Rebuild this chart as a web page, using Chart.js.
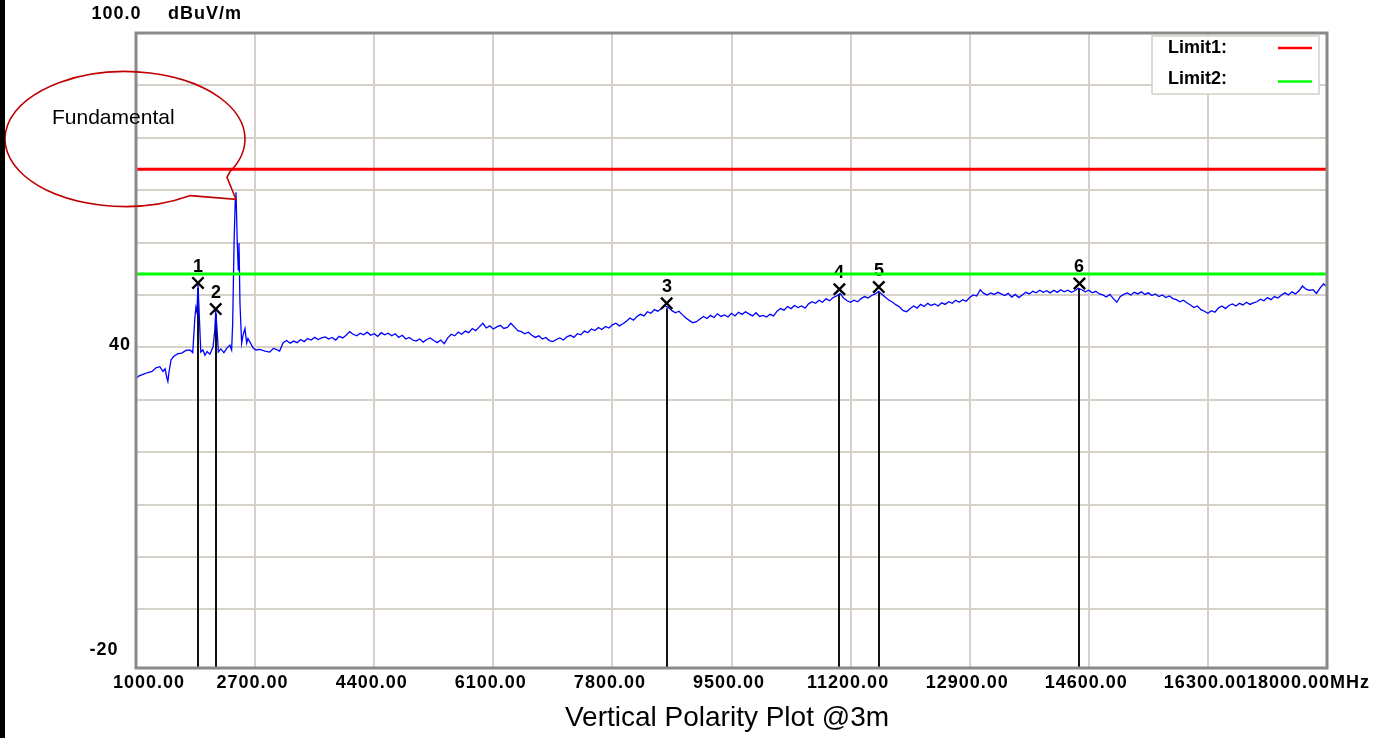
<!DOCTYPE html>
<html>
<head>
<meta charset="utf-8">
<script src="https://cdn.jsdelivr.net/npm/chart.js@4.4.1/dist/chart.umd.min.js"></script>
<style>
  html, body { margin: 0; padding: 0; background: #fff; }
  #wrap { position: relative; width: 1394px; height: 738px; overflow: hidden; }
  #edge { position: absolute; left: 0; top: 0; width: 5px; height: 738px; background: #000; }
  canvas { display: block; }
</style>
</head>
<body>
<div id="wrap">
  <canvas id="plot" width="1394" height="738"></canvas>
  <div id="edge"></div>
</div>
<script>
// ---- axes ----
const xTickValues = [1000, 2700, 4400, 6100, 7800, 9500, 11200, 12900, 14600, 16300, 18000];
const xTickLabels = ['1000.00', '2700.00', '4400.00', '6100.00', '7800.00', '9500.00',
                     '11200.00', '12900.00', '14600.00', '16300.00', '18000.00MHz'];
const yGridLevels = [100, 90, 80, 70, 60, 50, 40, 30, 20, 10, 0, -10];
const yTickValues = [100, 40, -20];
const yTickLabels = ['100.0', '40', '-20'];
const yUnit = 'dBuV/m';
const plotTitle = 'Vertical Polarity Plot @3m';
const calloutText = 'Fundamental';
const calloutFreq = 2427;
const calloutLevel = 69.6;

// ---- limits ----
const limitNames = ['Limit1:', 'Limit2:'];
const limitLevels = [74, 54];

// ---- markers ----
const markerIds = ['1', '2', '3', '4', '5', '6'];
const markerFreqs = [1885, 2138, 8575, 11040, 11602, 14467];
const markerLevels = [52.3, 47.3, 48.4, 51.1, 51.5, 52.2];

// ---- measured trace, 1 - 3 GHz (MHz / dBuV/m) ----
const lowBandFreqs = [
  1000, 1050, 1110, 1170, 1230, 1285, 1340, 1385, 1415, 1440, 1455, 1470, 1500, 1540, 1600,
  1655, 1710, 1770, 1810, 1840, 1855, 1870, 1885, 1905, 1925, 1955, 1985, 2015, 2055, 2100,
  2125, 2138, 2160, 2175, 2210, 2255, 2300, 2340, 2365, 2380, 2400, 2417, 2427, 2437, 2446,
  2460, 2470, 2484, 2508, 2527, 2555, 2580, 2598, 2627, 2670, 2712, 2770, 2840, 2910, 2960
];
const lowBandLevels = [
  34.1, 34.6, 34.9, 35.2, 35.4, 36.1, 36.3, 35.4, 35.9, 34.2, 33.5, 35.2, 37.6, 38.3, 38.8,
  38.9, 39.4, 39.5, 39.0, 45.6, 47.6, 46.7, 52.0, 45.5, 39.1, 39.5, 38.5, 39.2, 38.7, 40.1,
  43.3, 47.0, 42.8, 39.1, 39.7, 39.0, 39.9, 40.4, 39.5, 44.6, 60.0, 68.2, 69.6, 64.4, 59.8,
  54.8, 59.9, 48.4, 40.8, 42.3, 43.6, 40.8, 41.7, 41.0, 39.9, 39.5, 39.6, 39.3, 39.1, 39.8
];

// ---- measured trace, 3 - 18 GHz sweep, 50 MHz steps ----
const sweepStart = 3000;
const sweepStep = 50;
const sweepLevels = [
  39.6, 39.3, 40.9, 41.3, 40.8, 41.2, 40.9, 41.5, 41.1, 41.7, 41.4, 41.9, 41.5, 41.8, 42.0, 41.6, 41.9, 41.4, 42.1, 41.8,
  42.3, 43.0, 42.5, 42.2, 42.7, 42.4, 42.9, 42.3, 42.6, 42.1, 42.8, 42.4, 42.7, 42.2, 42.6, 41.9, 42.3, 41.6, 41.9, 41.4,
  41.2, 41.6, 41.0, 41.5, 41.8, 41.3, 40.9, 41.4, 40.7, 41.8, 42.5, 42.2, 42.9, 42.5, 43.1, 42.8, 43.6, 43.2, 43.9, 44.6,
  43.7, 44.1, 43.5, 43.9, 44.2, 43.6, 43.8, 44.6, 43.9, 43.2, 43.0, 42.6, 42.9, 42.3, 41.9, 42.2, 41.6, 41.9, 41.3, 41.1,
  41.5, 41.8, 41.4, 42.0, 42.3, 41.9, 42.6, 42.4, 43.1, 42.8, 43.5, 43.2, 43.8, 43.4, 44.0, 43.7, 44.3, 44.6, 44.1, 44.5,
  45.0, 45.6, 45.2, 45.9, 46.3, 46.0, 46.8, 46.5, 47.2, 46.9, 47.4, 47.9, 47.6, 47.0, 46.6, 46.9, 46.2, 45.6, 45.1, 44.7,
  44.9, 45.4, 45.9, 45.5, 46.1, 45.7, 46.4, 45.9, 46.2, 45.8, 46.5, 46.0, 46.7, 46.3, 46.8, 46.4, 46.0, 46.6, 45.9, 46.1,
  45.8, 46.3, 46.0, 46.9, 47.4, 47.1, 47.8, 47.4, 48.0, 47.6, 47.9, 47.5, 48.3, 48.7, 48.4, 49.0, 48.6, 49.3, 48.9, 49.5,
  49.8, 50.3, 49.4, 48.9, 48.6, 49.0, 48.7, 49.3, 49.7, 49.4, 49.9, 50.2, 50.7, 50.1, 49.5, 49.0, 48.6, 48.1, 47.7, 47.0,
  46.8, 47.4, 47.9, 47.5, 48.2, 47.8, 48.4, 48.0, 48.3, 47.9, 48.5, 48.2, 48.7, 48.4, 49.0, 48.6, 49.1, 48.8, 49.5, 50.0,
  49.8, 51.0, 50.3, 50.0, 50.4, 50.1, 50.5, 50.2, 49.9, 50.3, 49.6, 50.1, 49.5, 50.0, 50.5, 50.2, 50.7, 50.4, 50.9, 50.5,
  50.8, 50.4, 50.9, 50.5, 51.0, 50.6, 50.9, 50.5, 50.8, 51.3, 51.0, 50.6, 50.9, 50.4, 50.7, 50.2, 50.0, 49.6, 50.1, 49.3,
  48.6, 49.7, 50.1, 50.4, 50.0, 50.5, 50.2, 50.6, 50.1, 50.4, 49.9, 50.2, 49.7, 50.0, 49.5, 49.8, 49.3, 49.1, 48.7, 49.0,
  48.5, 48.1, 47.6, 47.9, 47.2, 46.9, 46.5, 47.0, 46.7, 47.5, 47.9, 47.4, 48.0, 48.3, 47.9, 48.4, 48.1, 48.6, 48.2, 48.5,
  48.7, 49.2, 48.9, 49.5, 49.1, 49.7, 49.4, 50.0, 50.4, 50.0, 50.6, 50.2, 50.8, 51.7, 51.1, 50.9, 51.0, 50.3, 51.3, 52.1,
  51.6
];

// ---- build chart data ----
const tracePoints = lowBandFreqs.map((f, i) => ({ x: f, y: lowBandLevels[i] }))
  .concat(sweepLevels.map((v, i) => ({ x: sweepStart + i * sweepStep, y: v })));
const markerPoints = markerFreqs.map((f, i) => ({ x: f, y: markerLevels[i] }));
const xMin = xTickValues[0];
const xMax = xTickValues[xTickValues.length - 1];
const limitColors = ['#ff0000', '#00ff00'];
const limitDatasets = limitNames.map((name, i) => ({
  label: name,
  data: [{ x: xMin, y: limitLevels[i] }, { x: xMax, y: limitLevels[i] }],
  borderColor: limitColors[i],
  borderWidth: 3,
  pointRadius: 0,
  order: 0
}));

const AXIS_FONT = 'bold 18px "Liberation Sans", Arial, sans-serif';

// Frame, legend, axis text, marker drop lines and the callout bubble.
const decorations = {
  id: 'decorations',
  beforeDatasetsDraw(chart) {
    const { ctx, chartArea: a, scales: { x, y } } = chart;
    ctx.save();
    ctx.strokeStyle = '#111';
    ctx.lineWidth = 2;
    ctx.fillStyle = '#000';
    ctx.font = 'bold 18px "Liberation Sans", Arial, sans-serif';
    ctx.textAlign = 'center';
    ctx.textBaseline = 'middle';
    markerFreqs.forEach((f, i) => {
      const px = Math.round(x.getPixelForValue(f));
      const py = y.getPixelForValue(markerLevels[i]);
      ctx.beginPath();
      ctx.moveTo(px, py + 5);
      ctx.lineTo(px, a.bottom);
      ctx.stroke();
      ctx.fillText(markerIds[i], px, py - 16);
    });
    ctx.restore();
  },
  afterDatasetsDraw(chart) {
    const { ctx, chartArea: a } = chart;
    ctx.save();
    // plot frame
    ctx.strokeStyle = '#8a8a8a';
    ctx.lineWidth = 3;
    ctx.strokeRect(a.left, a.top, a.right - a.left, a.bottom - a.top);
    // legend box
    const bx = a.right - 175, by = a.top + 3, bw = 167, bh = 58;
    ctx.fillStyle = '#fff';
    ctx.fillRect(bx, by, bw, bh);
    ctx.strokeStyle = '#d4d0c8';
    ctx.lineWidth = 1.5;
    ctx.strokeRect(bx, by, bw, bh);
    ctx.font = 'bold 18px "Liberation Sans", Arial, sans-serif';
    ctx.textAlign = 'left';
    ctx.textBaseline = 'middle';
    limitDatasets.forEach((ds, i) => {
      const ty = by + 12 + i * 31;
      ctx.fillStyle = '#000';
      ctx.fillText(ds.label, bx + 16, ty);
      ctx.strokeStyle = ds.borderColor;
      ctx.lineWidth = 2.5;
      ctx.beginPath();
      ctx.moveTo(bx + 126, ty + i * 2.5);
      ctx.lineTo(bx + 160, ty + i * 2.5);
      ctx.stroke();
    });
    ctx.restore();
  },
  afterDraw(chart) {
    const { ctx, chartArea: a, scales: { x, y } } = chart;
    ctx.save();
    ctx.fillStyle = '#000';
    ctx.font = AXIS_FONT;
    ctx.letterSpacing = '1px';
    ctx.textBaseline = 'middle';
    // x tick labels
    xTickValues.forEach((v, i) => {
      const px = x.getPixelForValue(v);
      if (i === 0) {
        ctx.textAlign = 'left';
        ctx.fillText(xTickLabels[i], px - 23, a.bottom + 15);
      } else if (i === xTickValues.length - 1) {
        ctx.textAlign = 'left';
        ctx.fillText(xTickLabels[i], px - 80, a.bottom + 15);
      } else {
        ctx.textAlign = 'center';
        ctx.fillText(xTickLabels[i], px - 2.5, a.bottom + 15);
      }
    });
    // y tick labels and unit
    ctx.textAlign = 'left';
    ctx.fillText(yTickLabels[0], a.left - 44.5, a.top - 19);
    ctx.fillText(yUnit, a.left + 32, a.top - 19);
    ctx.textAlign = 'right';
    ctx.fillText(yTickLabels[1], a.left - 5, y.getPixelForValue(yTickValues[1]) - 2);
    ctx.fillText(yTickLabels[2], a.left - 17.5, y.getPixelForValue(yTickValues[2]) - 11.5);
    ctx.letterSpacing = '0px';
    // title under the axis
    ctx.textAlign = 'center';
    ctx.textBaseline = 'alphabetic';
    ctx.font = '28px "Liberation Sans", Arial, sans-serif';
    ctx.fillText(plotTitle, 727, 726);
    // callout bubble pointing at the fundamental
    const tipX = x.getPixelForValue(calloutFreq);
    const tipY = y.getPixelForValue(calloutLevel) + 7;
    const cx = 125, cy = 139, rx = 120, ry = 67.5;
    const a0 = 57 * Math.PI / 180, a1 = 29 * Math.PI / 180;
    ctx.strokeStyle = '#c00000';
    ctx.lineWidth = 1.6;
    ctx.beginPath();
    ctx.ellipse(cx, cy, rx, ry, 0, a0, a1 + 2 * Math.PI);
    ctx.lineTo(tipX - 9, tipY - 22);
    ctx.lineTo(tipX, tipY);
    ctx.closePath();
    ctx.stroke();
    ctx.fillStyle = '#000';
    ctx.textAlign = 'left';
    ctx.font = '21px "Liberation Sans", Arial, sans-serif';
    ctx.fillText(calloutText, 52, 124);
    ctx.restore();
  }
};

new Chart(document.getElementById('plot'), {
  type: 'line',
  data: {
    datasets: [
      ...limitDatasets,
      {
        label: 'Markers',
        type: 'scatter',
        data: markerPoints,
        showLine: false,
        pointStyle: 'crossRot',
        pointRadius: 8,
        pointBorderWidth: 2.4,
        borderColor: '#000',
        backgroundColor: '#000',
        order: 1
      },
      {
        label: 'Trace',
        data: tracePoints,
        borderColor: '#0000ff',
        borderWidth: 1.3,
        pointRadius: 0,
        tension: 0,
        order: 2
      }
    ]
  },
  options: {
    responsive: false,
    animation: false,
    events: [],
    devicePixelRatio: 1,
    layout: { padding: { left: 136, top: 33, right: 67, bottom: 70 } },
    plugins: { legend: { display: false }, tooltip: { enabled: false }, title: { display: false } },
    scales: {
      x: {
        type: 'linear',
        min: xMin,
        max: xMax,
        afterBuildTicks: s => { s.ticks = xTickValues.map(v => ({ value: v })); },
        ticks: { display: false },
        grid: { color: '#d6d2ca', lineWidth: 2, drawTicks: false },
        border: { display: false }
      },
      y: {
        type: 'linear',
        min: -21.2,
        max: 100,
        afterBuildTicks: s => { s.ticks = yGridLevels.map(v => ({ value: v })); },
        ticks: { display: false },
        grid: { color: '#d6d2ca', lineWidth: 2, drawTicks: false },
        border: { display: false }
      }
    }
  },
  plugins: [decorations]
});
</script>
</body>
</html>
